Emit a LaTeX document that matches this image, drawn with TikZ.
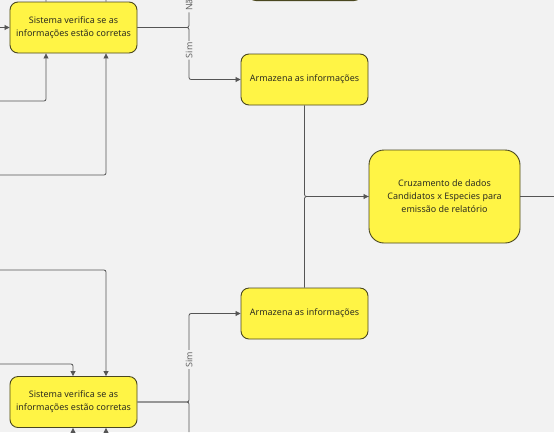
\documentclass[tikz,border=0pt]{standalone}
\usepackage{fontspec}
\setmainfont{Noto Sans}
\usetikzlibrary{arrows.meta}
\definecolor{bg}{HTML}{F2F2F2}
\definecolor{boxfill}{HTML}{FFF445}
\definecolor{boxdraw}{HTML}{4A4720}
\definecolor{txt}{HTML}{2E2E20}
\definecolor{wire}{HTML}{555555}
\begin{document}
\begin{tikzpicture}[x=1bp,y=-1bp,
  proc/.style={draw=boxdraw,fill=boxfill,line width=0.9bp,rounded corners=8bp,
    text=txt,font=\fontsize{9}{13}\selectfont,align=center,inner sep=0pt},
  wire/.style={draw=wire,line width=0.8bp,rounded corners=2bp},
  arr/.style={wire,-{Triangle[length=5bp,width=5bp]}},
  lbl/.style={rotate=90,fill=bg,text=wire!90,font=\fontsize{9}{10}\selectfont,inner sep=1.5bp}]
\useasboundingbox (0,0) rectangle (554,432);
\fill[bg] (0,0) rectangle (554,432);
% partial box at top
\node[proc,minimum width=114bp,minimum height=30bp,anchor=south] (T) at (305,1) {};
% boxes
\node[proc,minimum width=127bp,minimum height=51bp] (A) at (73.5,27.5) {Sistema verifica se as\\informações estão corretas};
\node[proc,minimum width=127bp,minimum height=51bp] (B) at (304.5,79.5) {Armazena as informações};
\node[proc,minimum width=151bp,minimum height=93bp,rounded corners=15bp] (C) at (444.5,196.5) {Cruzamento de dados\\Candidatos x Especies para\\emissão de relatório};
\node[proc,minimum width=127bp,minimum height=51bp] (D) at (304.5,313.5) {Armazena as informações};
\node[proc,minimum width=127bp,minimum height=51bp] (E) at (73.5,402) {Sistema verifica se as\\informações estão corretas};
% free-end coordinates
\coordinate (a1) at (0,27.5);
\coordinate (a2) at (0,101);
\coordinate (a3) at (0,175);
\coordinate (a4) at (46,0);
\coordinate (a5) at (106,0);
\coordinate (top) at (189,0);
\coordinate (e1) at (0,270);
\coordinate (e2) at (0,364);
\coordinate (e3) at (73,432);
\coordinate (e4) at (106,432);
\coordinate (bot) at (189,432);
\coordinate (cr) at (554,196.5);
% connectors into A
\draw[arr] (a1) -- (A.west);
\draw[arr] (a2) -| ([xshift=-27.5bp]A.south);
\draw[arr] (a3) -| ([xshift=32.5bp]A.south);
\draw[wire] ([xshift=-27.5bp]A.north) -- (a4);
\draw[wire] ([xshift=32.5bp]A.north) -- (a5);
% A outputs
\draw[wire] (A.east) -| (top) node[lbl,pos=0.96] {Não};
\draw[arr] (A.east) -| (189,79.5) node[lbl,pos=0.72] {Sim} -- (B.west);
% B, D to C
\draw[wire] (B.south) |- (C.west);
\draw[arr] (D.north) |- (C.west);
\draw[wire] (C.east) -- (cr);
% into E
\draw[arr] (e1) -| ([xshift=32.5bp]E.north);
\draw[arr] (e2) -| ([xshift=-0.5bp]E.north);
\draw[arr] (e3) -- ([xshift=-0.5bp]E.south);
\draw[arr] (e4) -- ([xshift=32.5bp]E.south);
% E outputs
\draw[arr] (E.east) -| (189,313.5) node[lbl,pos=0.74] {Sim} -- (D.west);
\draw[wire] (E.east) -| (bot);
\end{tikzpicture}
\end{document}
